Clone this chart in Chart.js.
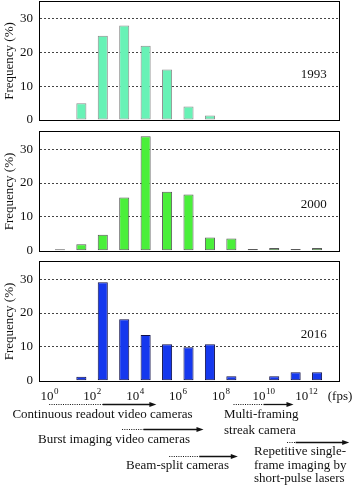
<!DOCTYPE html>
<html><head><meta charset="utf-8">
<script src="https://cdn.jsdelivr.net/npm/chart.js@4.4.1/dist/chart.umd.min.js"></script>
<style>
html,body{margin:0;padding:0;background:#fff;}
#wrap{position:relative;width:354px;height:491px;overflow:hidden;}
canvas{position:absolute;left:0;}
</style></head><body>
<div id="wrap">
<canvas id="c1" style="top:0px;width:354px;height:130px"></canvas>
<canvas id="c2" style="top:125px;width:354px;height:135px"></canvas>
<canvas id="c3" style="top:255px;width:354px;height:236px"></canvas>
</div>
<script>
// ---- data ----
const decadeStarts = [0,1,2,3,4,5,6,7,8,9,10,11,12];           // bin = 10^k .. 10^(k+1) fps
const freq1993 = [null,5,25,28,22,15,4,1.3,null,null,null,null,null];
const freq2000 = [0.4,1.9,4.7,15.7,33.8,17.4,16.6,3.9,3.6,0.5,0.8,0.5,0.8];
const freq2016 = [null,1.2,29.1,18.2,13.5,10.8,9.9,10.8,1.3,null,1.3,2.5,2.5];
const yTickValues = [0,10,20,30];
const xTickExponents = [0,2,4,6,8,10,12];
const years = ['1993','2000','2016'];
// camera ranges in log10(fps): [dotted start, solid start, arrow tip]
const camNames = ['Continuous readout video cameras','Multi-framing streak camera','Burst imaging video cameras','Repetitive single-frame imaging by short-pulse lasers','Beam-split cameras'];
const camRanges = [[0,2.5,5.0],[8.6,10.0,11.4],[3.4,4.4,7.2],[11.1,11.5,14.0],[5.6,7.0,8.8]];

const SERIF = "'Liberation Serif','Times New Roman',serif";

const boxPlugin = {
  id:'box',
  afterDatasetsDraw(chart){
    const {ctx, chartArea:a} = chart;
    const l = Math.round(a.left)-0.5, r = Math.round(a.right)-0.5, t = Math.round(a.top)-0.5, b = Math.round(a.bottom)+0.5;
    ctx.save();
    ctx.strokeStyle='#000'; ctx.lineWidth=1;
    ctx.strokeRect(l, t, r-l, b-t);
    ctx.restore();
  }
};
const yearPlugin = {
  id:'yearLabel',
  afterDraw(chart, args, opts){
    if(!opts || !opts.text) return;
    const {ctx, scales} = chart;
    ctx.save();
    ctx.font = "13px " + SERIF;
    ctx.fillStyle='#111'; ctx.textAlign='center'; ctx.textBaseline='middle';
    ctx.fillText(opts.text, scales.x.getPixelForValue(opts.x), scales.y.getPixelForValue(opts.y));
    ctx.restore();
  }
};
const annoPlugin = {
  id:'anno',
  afterDraw(chart, args, opts){
    if(!opts || !opts.on) return;
    const {ctx, scales, chartArea:a} = chart;
    const x = scales.x, b = a.bottom;
    ctx.save();
    ctx.fillStyle='#111'; ctx.textBaseline='alphabetic';
    // x tick labels 10^k with superscript exponent
    xTickExponents.forEach(k=>{
      const px = x.getPixelForValue(k);
      ctx.font = "13px " + SERIF;
      const w1 = ctx.measureText('10').width;
      ctx.font = "9px " + SERIF;
      const w2 = ctx.measureText(String(k)).width;
      const left = px - (w1 + w2)/2;
      ctx.font = "13px " + SERIF; ctx.textAlign='left';
      ctx.fillText('10', left, b + 19);
      ctx.font = "9px " + SERIF;
      ctx.fillText(String(k), left + w1 + 0.5, b + 13);
    });
    ctx.font = "13px " + SERIF;
    ctx.textAlign='center';
    ctx.fillText('(fps)', a.right, b + 19);
    ctx.textBaseline='middle';
    const rowY = [23.3, 23.3, 48.3, 61.3, 75.3];
    camRanges.forEach((r,i)=>{
      const y = Math.round(b + rowY[i]) + 0.5;
      const x0 = x.getPixelForValue(r[0]), x1 = x.getPixelForValue(r[1]), x2 = x.getPixelForValue(r[2]);
      ctx.strokeStyle='#111'; ctx.lineWidth=1;
      ctx.setLineDash([1,1.3]);
      ctx.beginPath(); ctx.moveTo(x0,y); ctx.lineTo(x1,y); ctx.stroke();
      ctx.setLineDash([]);
      ctx.lineWidth=1.3;
      ctx.beginPath(); ctx.moveTo(x1,y); ctx.lineTo(x2-5,y); ctx.stroke();
      ctx.beginPath(); ctx.moveTo(x2,y); ctx.lineTo(x2-7,y-2.5); ctx.lineTo(x2-7,y+2.5); ctx.closePath(); ctx.fillStyle='#111'; ctx.fill();
    });
    ctx.fillStyle='#111';
    ctx.font = "13px " + SERIF;
    const texts = [
      {t:'Continuous readout video cameras', x:102.5, y:34.3, al:'center'},
      {t:'Multi-framing', x:224, y:34.3, al:'left'},
      {t:'streak camera', x:224, y:50.3, al:'left'},
      {t:'Burst imaging video cameras', x:114, y:59.3, al:'center'},
      {t:'Beam-split cameras', x:177.5, y:85.3, al:'center'},
      {t:'Repetitive single-', x:254, y:71.3, al:'left'},
      {t:'frame imaging by', x:254, y:84.6, al:'left'},
      {t:'short-pulse lasers', x:254, y:98.3, al:'left'}
    ];
    texts.forEach(o=>{ ctx.textAlign=o.al; ctx.fillText(o.t, o.x, b + o.y); });
    ctx.restore();
  }
};

function makeChart(id, vals, year, fill, border, pad, showX){
  const el = document.getElementById(id);
  return new Chart(el, {
    type:'bar',
    data:{ datasets:[{
      data: decadeStarts.map((d,i)=>({x:d+0.5, y:vals[i]})),
      backgroundColor: fill, borderColor: border, borderWidth:1, borderSkipped:false,
      barPercentage:1, categoryPercentage:0.47
    }]},
    options:{
      responsive:false, animation:false, devicePixelRatio:1,
      layout:{padding:pad},
      plugins:{legend:{display:false}, tooltip:{enabled:false},
        yearLabel:{text:year, x:12.35, y:13.5}, anno:{on:showX}},
      scales:{
        x:{ type:'linear', min:-0.43, max:13.57, display:false, offset:false,
          afterBuildTicks(s){ s.ticks = xTickExponents.map(v=>({value:v})); },
          grid:{display:false, offset:false}, border:{display:false}
        },
        y:{ min:0, max:35,
          afterBuildTicks(s){ s.ticks = yTickValues.map(v=>({value:v})); },
          afterFit(s){ s.width = 40; s.paddingTop=0; s.paddingBottom=0; },
          grid:{ drawTicks:false, color:c=> c.tick && c.tick.value===0 ? 'rgba(0,0,0,0)' : '#444', lineWidth:1 },
          border:{display:false, dash:[2,2]},
          ticks:{ padding:7, color:'#111', font:{family:SERIF, size:13} },
          title:{ display:true, text:'Frequency (%)', color:'#111', font:{family:SERIF, size:13}, padding:{top:2,bottom:0} }
        }
      }
    },
    plugins:[boxPlugin, yearPlugin, annoPlugin]
  });
}
document.getElementById('c1').width=354; document.getElementById('c1').height=130;
document.getElementById('c2').width=354; document.getElementById('c2').height=135;
document.getElementById('c3').width=354; document.getElementById('c3').height=236;
makeChart('c1', freq1993, years[0], '#68f2b6', '#8c8c8c', {top:2,bottom:10,left:0,right:14}, false);
makeChart('c2', freq2000, years[1], '#4aef3a', '#5a5a5a', {top:7.3,bottom:9.3,left:0,right:14}, false);
makeChart('c3', freq2016, years[2], '#1538ee', '#10104a', {top:7.3,bottom:110.3,left:0,right:14}, true);
</script>
</body></html>
